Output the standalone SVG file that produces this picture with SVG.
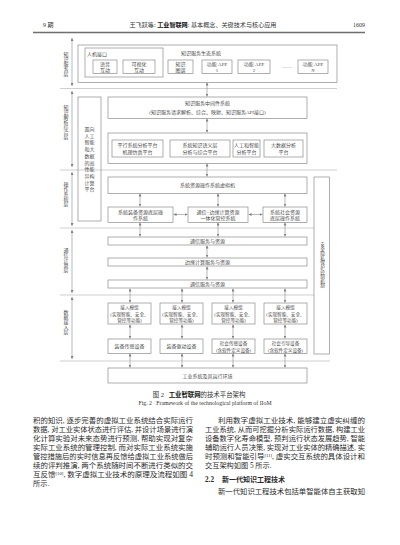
<svg xmlns="http://www.w3.org/2000/svg" width="400" height="545" viewBox="0 0 400 545">
<defs>
<marker id="ah" viewBox="0 0 6 6" refX="6" refY="3" markerUnits="userSpaceOnUse" markerWidth="3" markerHeight="3" orient="auto-start-reverse"><path d="M0,0 L6,3 L0,6 z" fill="#808080"/></marker>
<style>
.box{fill:none;stroke:#8c8c8c;stroke-width:0.7}
.sep{stroke:#b0b0b0;stroke-width:0.6}
.ar{stroke:#8a8a8a;stroke-width:0.6;fill:none;marker-start:url(#ah);marker-end:url(#ah)}
.t{font-family:"Liberation Serif","Noto Sans CJK SC",serif;font-size:5px;fill:#4a4a4a;text-anchor:middle}
.s{font-size:4.6px}
.v{writing-mode:tb;letter-spacing:0px}
.b{font-family:"Liberation Serif","Noto Sans CJK SC",serif;font-size:7.2px;fill:#2a2a2a}
.h{font-family:"Liberation Serif","Noto Sans CJK SC",serif;fill:#333}
</style>
</defs>
<rect width="400" height="545" fill="#ffffff"/>

<!-- page header -->
<g id="header">
<text class="h" x="43" y="27" font-size="6">9 期</text>
<text class="h" x="203" y="27" font-size="6" text-anchor="middle" textLength="147" lengthAdjust="spacingAndGlyphs">王飞跃等: <tspan font-weight="bold" fill="#111">工业智联网</tspan>: 基本概念、关键技术与核心应用</text>
<text class="h" x="365" y="27" font-size="6" text-anchor="end">1609</text>
<line x1="33" y1="32.5" x2="365" y2="32.5" stroke="#6e6e6e" stroke-width="1.3"/>
</g>

<!-- connectors -->
<g id="connectors">
<line class="sep" x1="60" y1="88.5" x2="337" y2="88.5"/>
<line class="sep" x1="60" y1="170" x2="337" y2="170"/>
<line class="sep" x1="60" y1="228" x2="314" y2="228"/>
<line class="sep" x1="60" y1="295" x2="314" y2="295"/>
<line class="sep" x1="60" y1="361" x2="330" y2="361"/>
<line class="ar" x1="72" y1="86" x2="72" y2="38"/>
<line class="ar" x1="72" y1="91" x2="72" y2="167"/>
<line class="ar" x1="72" y1="172" x2="72" y2="226"/>
<line class="ar" x1="72" y1="230" x2="72" y2="293"/>
<line class="ar" x1="72" y1="297" x2="72" y2="359"/>
<line class="ar" x1="207" y1="82.5" x2="207" y2="96.5"/>
<line class="ar" x1="207" y1="118.5" x2="207" y2="132.5"/>
<line class="ar" x1="207" y1="163.5" x2="207" y2="176.5"/>
<line class="ar" x1="140" y1="193.5" x2="140" y2="206.5"/>
<line class="ar" x1="218" y1="193.5" x2="218" y2="206.5"/>
<line class="ar" x1="285" y1="193.5" x2="285" y2="206.5"/>
<line class="ar" x1="173.5" y1="214.5" x2="187.5" y2="214.5"/>
<line class="ar" x1="248.5" y1="214.5" x2="262.5" y2="214.5"/>
<line class="ar" x1="140" y1="222.5" x2="140" y2="236.5"/>
<line class="ar" x1="218" y1="222.5" x2="218" y2="236.5"/>
<line class="ar" x1="285" y1="222.5" x2="285" y2="236.5"/>
<line class="ar" x1="207" y1="245.5" x2="207" y2="257.5"/>
<line class="ar" x1="207" y1="266.5" x2="207" y2="279.5"/>
<line class="ar" x1="130" y1="288.5" x2="130" y2="302.5"/>
<line class="ar" x1="182" y1="288.5" x2="182" y2="302.5"/>
<line class="ar" x1="233" y1="288.5" x2="233" y2="302.5"/>
<line class="ar" x1="285" y1="288.5" x2="285" y2="302.5"/>
<line class="ar" x1="130" y1="324.5" x2="130" y2="338.5"/>
<line class="ar" x1="182" y1="324.5" x2="182" y2="338.5"/>
<line class="ar" x1="233" y1="324.5" x2="233" y2="338.5"/>
<line class="ar" x1="285" y1="324.5" x2="285" y2="338.5"/>
<line class="ar" x1="130" y1="353.5" x2="130" y2="367.5"/>
<line class="ar" x1="182" y1="353.5" x2="182" y2="367.5"/>
<line class="ar" x1="233" y1="353.5" x2="233" y2="367.5"/>
<line class="ar" x1="285" y1="353.5" x2="285" y2="367.5"/>
</g>

<!-- layer labels -->
<g id="layer-labels">
<text class="t v" x="65" y="64">知识服务层</text>
<text class="t v" x="65" y="122">知识解析综合层</text>
<text class="t v" x="65" y="194">操作系统层</text>
<text class="t v" x="65" y="260">通信计算层</text>
<text class="t v" x="65" y="322">数据接入层</text>
</g>

<g id="ecosystem">
<rect class="box" x="78" y="45" width="259" height="37.5"/>
<text class="t" x="201" y="55">知识服务生态系统</text>
</g>
<g id="hmi">
<rect class="box" x="85" y="48" width="78" height="29"/>
<text class="t" x="87" y="56" style="text-anchor:start">人机接口</text>
</g>
<g id="voice">
<rect class="box" x="93" y="60" width="24" height="13.5"/>
<text class="t" x="105" y="65.5">语音</text><text class="t" x="105" y="71.5">互动</text>
</g>
<g id="visual">
<rect class="box" x="123" y="60" width="32" height="13.5"/>
<text class="t" x="139" y="65.5">可视化</text><text class="t" x="139" y="71.5">互动</text>
</g>
<g id="kg">
<rect class="box" x="168" y="60" width="25" height="13.5"/>
<text class="t" x="180.5" y="65.5">知识</text><text class="t" x="180.5" y="71.5">图谱</text>
</g>
<g id="app1">
<rect class="box" x="202" y="60" width="30" height="13.5"/>
<text class="t" x="217" y="65.5">功能 APP</text><text class="t" x="217" y="71.5">1</text>
</g>
<g id="app2">
<rect class="box" x="238" y="60" width="32" height="13.5"/>
<text class="t" x="254" y="65.5">功能 APP</text><text class="t" x="254" y="71.5">2</text>
</g>
<text class="t" x="287" y="68">……</text>
<g id="appN">
<rect class="box" x="298" y="60" width="30" height="13.5"/>
<text class="t" x="313" y="65.5">功能 APP</text><text class="t" x="313" y="71.5" font-style="italic">N</text>
</g>

<g id="hpc">
<rect class="box" x="78" y="97" width="23" height="124"/>
<text class="t"><tspan x="89.5" y="131">面向</tspan><tspan x="89.5" y="137.7">人工</tspan><tspan x="89.5" y="144.4">智能</tspan><tspan x="89.5" y="151.1">和大</tspan><tspan x="89.5" y="157.8">数据</tspan><tspan x="89.5" y="164.5">的高</tspan><tspan x="89.5" y="171.2">性能</tspan><tspan x="89.5" y="177.9">异构</tspan><tspan x="89.5" y="184.6">计算</tspan><tspan x="89.5" y="191.3">平台</tspan></text>
</g>
<g id="middleware">
<rect class="box" x="108" y="97" width="199" height="21.5"/>
<text class="t" x="207.5" y="105">知识服务中间件系统</text>
<text class="t" x="207.5" y="113.5">(知识服务请求解析、综合、映射、知识服务API接口)</text>
</g>
<g id="platforms">
<rect class="box" x="108" y="133" width="199" height="30.5"/>
</g>
<g id="parallel">
<rect class="box" x="112" y="140" width="51" height="17"/>
<text class="t" x="137.5" y="147">平行系统分析平台</text><text class="t" x="137.5" y="154">机理仿真平台</text>
</g>
<g id="semantic">
<rect class="box" x="170" y="140" width="60" height="17"/>
<text class="t" x="200" y="147">系统知识语义层</text><text class="t" x="200" y="154">分析与综合平台</text>
</g>
<g id="ai">
<rect class="box" x="233" y="140" width="27" height="17"/>
<text class="t" x="246.5" y="147">人工和智能</text><text class="t" x="246.5" y="154">分析平台</text>
</g>
<g id="bigdata">
<rect class="box" x="264" y="140" width="39" height="17"/>
<text class="t" x="283.5" y="147">大数据分析</text><text class="t" x="283.5" y="154">平台</text>
</g>

<g id="vm">
<rect class="box" x="108" y="177" width="199" height="16.5"/>
<text class="t" x="207.5" y="187">系统资源操作系统虚拟机</text>
</g>
<g id="equip-os">
<rect class="box" x="108" y="207" width="65" height="15.5"/>
<text class="t" x="140.5" y="213.5">系统装备资源底层操</text><text class="t" x="140.5" y="220">作系统</text>
</g>
<g id="edge-os">
<rect class="box" x="188" y="207" width="60" height="15.5"/>
<text class="t" x="218" y="213.5">通信−边缘计算资源</text><text class="t" x="218" y="220">一体化管控系统</text>
</g>
<g id="social-os">
<rect class="box" x="263" y="207" width="44" height="15.5"/>
<text class="t" x="285" y="213.5">系统社会资源</text><text class="t" x="285" y="220">底层操作系统</text>
</g>
<g id="security">
<rect class="box" x="314" y="177" width="15.5" height="177"/>
<text class="t v s" x="322" y="265">安全隐私保护控制机制</text>
</g>

<g id="comm1">
<rect class="box" x="108" y="237" width="199" height="8"/>
<text class="t" x="207.5" y="242.8">通信服务与资源</text>
</g>
<g id="edge">
<rect class="box" x="108" y="258" width="199" height="8"/>
<text class="t" x="207.5" y="263.8">边缘计算服务与资源</text>
</g>
<g id="comm2">
<rect class="box" x="108" y="280" width="199" height="8"/>
<text class="t" x="207.5" y="285.8">通信服务与资源</text>
</g>

<g id="acc1">
<rect class="box" x="108" y="303" width="43" height="21"/>
<text class="t s"><tspan x="129.5" y="309">接入模组</tspan><tspan x="129.5" y="315.5">(实现智能、安全、</tspan><tspan x="129.5" y="322">管控等功能)</tspan></text>
</g>
<g id="acc2">
<rect class="box" x="160" y="303" width="43" height="21"/>
<text class="t s"><tspan x="181.5" y="309">接入模组</tspan><tspan x="181.5" y="315.5">(实现智能、安全、</tspan><tspan x="181.5" y="322">管控等功能)</tspan></text>
</g>
<g id="acc3">
<rect class="box" x="212" y="303" width="43" height="21"/>
<text class="t s"><tspan x="233.5" y="309">接入模组</tspan><tspan x="233.5" y="315.5">(实现智能、安全、</tspan><tspan x="233.5" y="322">管控等功能)</tspan></text>
</g>
<g id="acc4">
<rect class="box" x="264" y="303" width="43" height="21"/>
<text class="t s"><tspan x="285.5" y="309">接入模组</tspan><tspan x="285.5" y="315.5">(实现智能、安全、</tspan><tspan x="285.5" y="322">管控等功能)</tspan></text>
</g>
<g id="dev1">
<rect class="box" x="108" y="339" width="43" height="14.5"/>
<text class="t" x="129.5" y="348">装备传感设备</text>
</g>
<g id="dev2">
<rect class="box" x="160" y="339" width="43" height="14.5"/>
<text class="t" x="181.5" y="348">装备驱动设备</text>
</g>
<g id="dev3">
<rect class="box" x="212" y="339" width="43" height="14.5"/>
<text class="t s"><tspan x="233.5" y="345">社会传感设备</tspan><tspan x="233.5" y="351.5">(含软件定义设备)</tspan></text>
</g>
<g id="dev4">
<rect class="box" x="264" y="339" width="43" height="14.5"/>
<text class="t s"><tspan x="285.5" y="345">社会引导设备</tspan><tspan x="285.5" y="351.5">(含软件定义设备)</tspan></text>
</g>
<g id="env">
<rect class="box" x="108" y="368" width="199" height="15"/>
<text class="t" x="207.5" y="377.5">工业系统及其运行环境</text>
</g>

<g id="caption">
<text class="h" x="199" y="397" font-size="6.4" text-anchor="middle">图 2&#160;&#160;&#160;<tspan font-weight="bold" fill="#111">工业智联网</tspan>的技术平台架构</text>
<text class="h" x="205" y="405" font-size="5.8" text-anchor="middle">Fig. 2&#160;&#160;&#160;Framework of the technological platform of IIoM</text>
</g>

<g id="body">
<text class="b" x="33" y="423" textLength="160" lengthAdjust="spacingAndGlyphs">积的知识, 逐步完善的虚拟工业系统结合实际运行</text>
<text class="b" x="33" y="432" textLength="160" lengthAdjust="spacingAndGlyphs">数据, 对工业实体状态进行评估, 并设计场景进行演</text>
<text class="b" x="33" y="441" textLength="160" lengthAdjust="spacingAndGlyphs">化计算实验对未来态势进行预测, 帮助实现对复杂</text>
<text class="b" x="33" y="450" textLength="160" lengthAdjust="spacingAndGlyphs">实际工业系统的管理控制, 而对实际工业系统实施</text>
<text class="b" x="33" y="459" textLength="160" lengthAdjust="spacingAndGlyphs">管控措施后的实时信息再反馈给虚拟工业系统做后</text>
<text class="b" x="33" y="468" textLength="160" lengthAdjust="spacingAndGlyphs">续的评判推演, 两个系统随时间不断进行类似的交</text>
<text class="b" x="33" y="477" textLength="160" lengthAdjust="spacingAndGlyphs">互反馈<tspan font-size="4.5" dy="-2.5">[10]</tspan><tspan dy="2.5">, 数字虚拟工业技术的原理及流程如图 4</tspan></text>
<text class="b" x="33" y="486">所示.</text>

<text class="b" x="218" y="423" textLength="147" lengthAdjust="spacingAndGlyphs">利用数字虚拟工业技术, 能够建立虚实纠缠的</text>
<text class="b" x="205" y="432" textLength="160" lengthAdjust="spacingAndGlyphs">工业系统, 从而可挖掘分析实际运行数据, 构建工业</text>
<text class="b" x="205" y="441" textLength="160" lengthAdjust="spacingAndGlyphs">设备数字化寿命模型, 预判运行状态发展趋势, 智能</text>
<text class="b" x="205" y="450" textLength="160" lengthAdjust="spacingAndGlyphs">辅助运行人员决策, 实现对工业实体的精确描述, 实</text>
<text class="b" x="205" y="459" textLength="160" lengthAdjust="spacingAndGlyphs">时预测和智能引导<tspan font-size="4.5" dy="-2.5">[11]</tspan><tspan dy="2.5">, 虚实交互系统的具体设计和</tspan></text>
<text class="b" x="205" y="468">交互架构如图 5 所示.</text>
<text class="b" x="205" y="481.5" font-weight="bold">2.2</text>
<text class="b" x="222" y="481.5" font-weight="bold" textLength="63" lengthAdjust="spacingAndGlyphs">新一代知识工程技术</text>
<text class="b" x="218" y="494" textLength="147" lengthAdjust="spacingAndGlyphs">新一代知识工程技术包括单智能体自主获取知</text>
</g>
</svg>
